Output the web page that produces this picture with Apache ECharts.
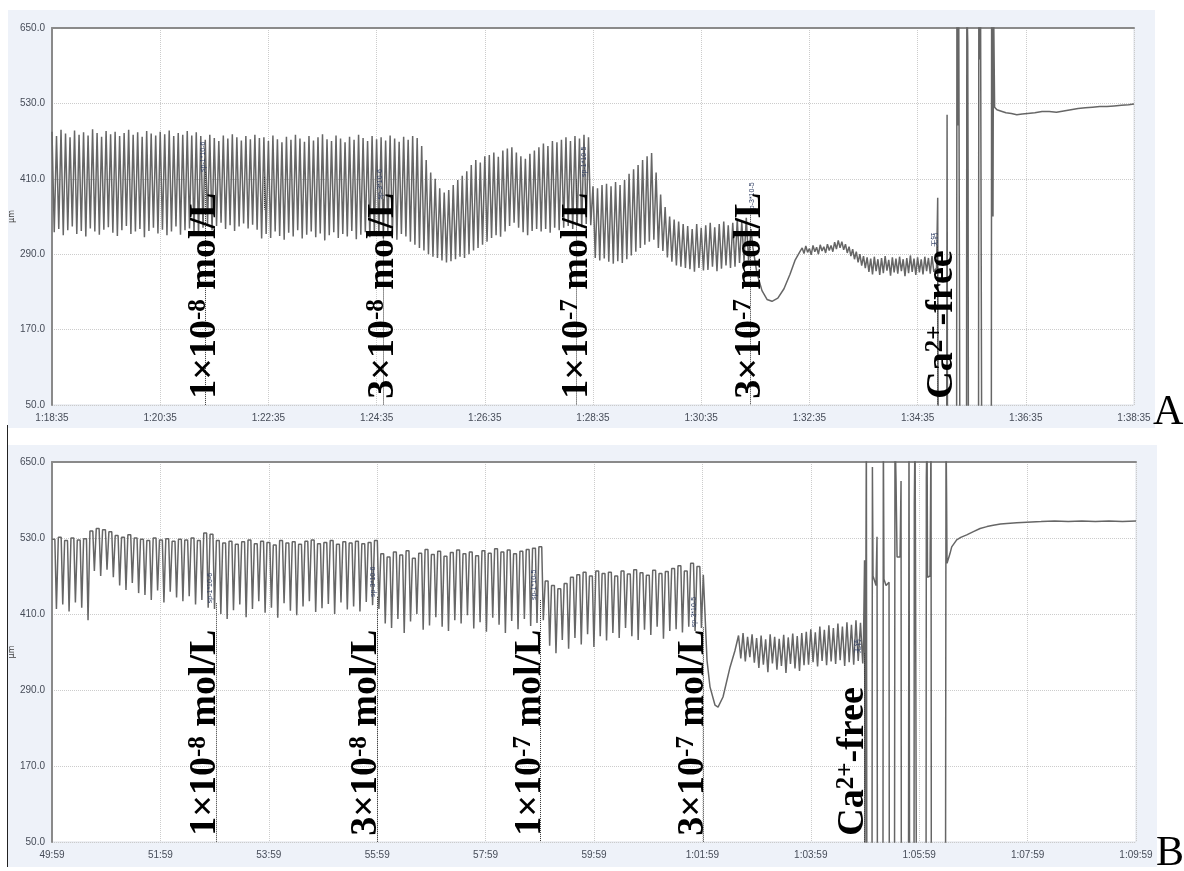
<!DOCTYPE html>
<html><head><meta charset="utf-8">
<script src="https://cdn.jsdelivr.net/npm/echarts/dist/echarts.min.js"></script>
<style>html,body{margin:0;padding:0;background:#fff}#c{width:1184px;height:871px}</style>
</head><body><div id="c"></div>
<script>
// ---------- tick labels ----------
const xTickLabelsA = ['1:18:35','1:20:35','1:22:35','1:24:35','1:26:35','1:28:35','1:30:35','1:32:35','1:34:35','1:36:35','1:38:35'];
const xTickLabelsB = ['49:59','51:59','53:59','55:59','57:59','59:59','1:01:59','1:03:59','1:05:59','1:07:59','1:09:59'];
const yTickLabels = ['50.0','170.0','290.0','410.0','530.0','650.0'];

// ---------- panel A (time in s from 1:18:35, value in µm) ----------
const beatStartA = 0, beatPeriodA = 5;
const peaksA = [
 485,478,488,482,476,487,480,484,479,489,483,477,486,481,485,478,483,488,480,484,477,486,482,479,485,481,487,478,483,480,486,479,484,
 478,472,480,475,470,479,474,481,476,471,478,473,480,475,
 476,470,479,473,468,477,472,480,474,469,478,471,476,481,473,470,479,474,468,477,472,480,475,470,478,473,476,471,479,474,469,477,472,478,475,
 462,440,420,410, 395,388,392, 400,408,415,422, 432,440,436,446, 448,452,445,455, 458,460,452,
 446,442,450,455, 460,466,462,470,468, 472,476,470,478,474,480,476,
 398,395,400, 402,398,405,400,408, 418,425,432,440,446,451, 420,385,365, 350,345,342,338,
 335,330,338,332,336,340,333,338,342,336,340, 345,342,348];
const troughsA = [
 325,330,320,328,334,322,327,318,331,326,321,329,333,324,319,328,335,322,326,330,317,327,332,323,329,320,326,334,321,328,331,325,319,
 332,338,328,335,340,330,336,327,334,339,331,337,329,315,
 322,316,326,319,313,324,318,328,315,321,326,317,323,312,320,325,316,322,318,327,314,321,325,317,323,319,315,326,320,313,322,318,310,305,300,
 296,290,286,284, 280,277,279, 282,286,284,290, 296,300,305,310, 316,320,318,326, 335,340,332,
 325,320,327,330, 326,330,324,332,328, 332,335,330,337,333,338,336,
 284,280,283, 278,275,279,276,282, 288,294,300,305,310,313, 300,295,285, 278,272,270,268,
 266,262,268,264,265,270,263,267,272,268,270, 276,278,280];
const smoothA1 = [[775.2,330],[777.4,300],[781.8,260],[787.4,232],[793,218],[798.5,215],[805,220],[811.8,235],[818.5,258],[824,280],[829.5,294]];
const smallStartA = 832, smallPeriodA = 4;
const smallPeaksA = [300,303,299,304,301,305,302,306,304, 309,312,310, 306,302,298,294,290,287,
 285,283,286,282,284,287,281,285,283,286,282,284,288,283,285,282,286,284,287];
const smallTroughsA = [291,293,289,294,290,295,292,296,294, 298,300,297, 292,287,282,277,272,268,
 262,258,263,257,260,264,256,261,259,263,255,260,262,257,261,258,263,259,262];
const spikesA = [[981,268],[982.3,380],[982.8,30],[992.3,30],[992.7,512],[993.1,30],[1003.3,30],[1003.6,700],[1004.6,495],[1005.6,700],[1006.8,30],
 [1014.3,30],[1014.6,700],[1015.6,626],[1016,420],[1016.3,30],[1027.6,30],[1027.9,700],[1029.2,600],[1029.8,700],[1031,30],
 [1041.8,30],[1042.1,700],[1043,640],[1043.6,350],[1044.2,700],[1045.4,524]];
const smoothA2 = [[1048,520],[1052,518],[1058,515],[1064,514],[1070,512],[1076,513],[1082,514],[1090,515],[1098,517],[1106,517],[1114,516],
 [1122,518],[1130,520],[1138,522],[1146,523],[1154,524],[1162,525],[1170,525],[1178,526],[1186,527],[1194,528],[1200,529]];

// ---------- panel B (time in s from 49:59) ----------
const beatStartB = 0, beatPeriodB = 7;
const peaksB = [528,531,526,530,527,529, 541,545,543,540, 534,531,535,530, 528,526,530,527,529,525,528, 527,530,526,538,536,
 526,522,525,520,524,527,521,525,523,519,526,522,524,520,525,527,521,523,526,520,524,522,525,521,523,526,
 505,500,508,503,510,498,506,512,504,509,501,507,511,505,508,502,510,506,513,508,511,505,509,512,514,
 516, 462,455,450,458, 468,472,476,470,478,474, 476,470,478,473,480,475,471,479,474,477, 482,486,478,490,485];
const troughsB = [418,425,414,428,420,400, 478,470,480,468, 455,448,459,443, 440,432,447,428,445,436,430, 438,425,432,420,418,
 410,402,416,425,405,418,430,412,420,404,427,415,408,422,430,413,419,426,410,428,417,422,414,429,424,418,
 395,388,402,380,398,410,385,392,405,390,383,400,395,408,387,397,382,404,393,380,399,386,402,391,396,
 400, 360,348,369,355, 372,362,378,358,375,368, 380,372,388,375,369,385,377,390,371,383, 386,381,390,383,388];
const smoothB1 = [[721,472],[725.1,337],[728.4,295],[734,266],[737.3,263],[742.8,279],[750.6,326],[756,352]];
const smallStartB = 760, smallPeriodB = 5;
const smallPeaksB = [376,380,374,378, 372,376,370,378,374,371,377,373,379,375,380, 382,386,381,390,385,392,388,395,390,397,393,400,396];
const smallTroughsB = [340,335,342,333, 325,330,318,332,322,328,317,331,324,320,329, 330,334,327,336,329,335,331,337,328,334,330,336,332];
const spikesB = [[898.4,372],[899.5,495],[900,30],[901.1,30],[901.5,700],[902,30],[907.8,30],[908.2,642],[908.9,470],[912.2,455],[913.3,532],[913.7,30],
 [919.9,30],[920.3,700],[921,465],[923.3,455],[926.6,460],[926.9,30],[932.7,30],[933.2,700],[934.3,625],[935.5,500],[938.8,500],[939.9,620],[940.2,30],
 [948.2,30],[948.7,700],[949.3,30],[954.3,30],[954.6,585],[955.4,700],[955.9,500],[956.5,500],[956.8,30],[967.6,30],[967.9,626],[968.7,700],
 [969.2,468],[972,470],[973.1,700],[973.4,30],[989.2,30],[989.7,700],[990.3,600],[990.8,490]];
const recoveryB = [[992.3,490],[994,505],[996,516],[1001.5,527],[1006,531],[1012.6,535],[1020,540],[1027.4,545],[1035,548],[1042,550],[1050,552],
 [1057,553],[1068,554],[1079,555],[1095,556],[1110,557],[1125,556],[1140,557],[1155,556],[1170,557],[1185,556],[1200,557]];

// ---------- event markers ----------
const markerTimesA = [169.7, 367.1, 581.1, 774.1, 981.5, 235.1];
const markerTopsA  = [421, 377, 409, 356, 302, 413];
const markerBottomsA = [50, 50, 50, 50, 50, 361];
const markerTimesB = [181.6, 359.8, 540.2, 720.8, 898.9];
const markerTopsB  = [427, 437, 432, 389, 348];
const tagTexts = ['sp-1*10-6','sp-3*10-6','sp-1*10-5','sp-3*10-5','无钙'];
const tagTimesA = [167.5, 363.8, 590, 776.3, 979.3];
const tagBottomsA = [421, 377, 413, 356, 302];
const tagTimesB = [174.9, 355.4, 533.6, 710.7, 892.3];
const tagBottomsB = [427, 437, 432, 389, 348];
const bigTexts = ['{n|1×10}{s|-8}{n| mol/L}','{n|3×10}{s|-8}{n| mol/L}','{n|1×10}{s|-7}{n| mol/L}','{n|3×10}{s|-7}{n| mol/L}','{n|Ca}{s|2+}{n|-free}'];
const bigTimesA = [169.7, 367.1, 582.2, 774.1, 987.0];
const bigTimesB = [169.4, 347.6, 529.2, 709.6, 886.8];
const bigBottomValue = 60;

// ---------- build traces ----------
function zigzag(t0, period, peaks, troughs) {
  const out = [];
  for (let i = 0; i < peaks.length; i++) {
    out.push([t0 + i * period, peaks[i]]);
    out.push([t0 + i * period + period / 2, troughs[i]]);
  }
  return out;
}
function plateau(t0, period, peaks, troughs) {
  const out = [];
  for (let i = 0; i < peaks.length; i++) {
    const t = t0 + i * period;
    out.push([t, peaks[i]]);
    out.push([t + period * 0.45, peaks[i]]);
    out.push([t + period * 0.7, troughs[i]]);
  }
  return out;
}
const traceA = [].concat(zigzag(beatStartA, beatPeriodA, peaksA, troughsA), smoothA1,
  zigzag(smallStartA, smallPeriodA, smallPeaksA, smallTroughsA), spikesA, smoothA2);
const traceB = [].concat(plateau(beatStartB, beatPeriodB, peaksB, troughsB), smoothB1,
  zigzag(smallStartB, smallPeriodB, smallPeaksB, smallTroughsB), spikesB, recoveryB);

const chart = echarts.init(document.getElementById('c'));
const tickFont = {fontSize: 10, color: '#464c58', fontFamily: 'Liberation Sans'};
function xAxes(gi, labels) {
  return [
    {gridIndex: gi, type: 'value', min: 0, max: 1200, interval: 120, position: 'bottom',
     axisLine: {show: false, onZero: false}, axisTick: {show: false},
     axisLabel: Object.assign({margin: 8, formatter: v => labels[Math.round(v / 120)]}, tickFont),
     splitLine: {show: true, lineStyle: {type: 'dotted', color: '#cccccc'}}},
    {gridIndex: gi, type: 'value', min: 0, max: 1200, position: 'top',
     axisLine: {show: true, onZero: false, lineStyle: {color: '#8a8a8a', width: 2}},
     axisTick: {show: false}, axisLabel: {show: false}, splitLine: {show: false}}
  ];
}
function yAxis(gi) {
  return {gridIndex: gi, type: 'value', min: 50, max: 650, interval: 120,
    axisLine: {show: true, onZero: false, lineStyle: {color: '#8a8a8a', width: 2}}, axisTick: {show: false},
    axisLabel: Object.assign({margin: 7, formatter: v => yTickLabels[Math.round((v - 50) / 120)]}, tickFont),
    splitLine: {show: true, lineStyle: {type: 'dotted', color: '#cccccc'}},
    name: 'μm', nameLocation: 'middle', nameGap: 36, nameRotate: 90, nameMoveOverlap: false,
    nameTextStyle: {fontSize: 8, color: '#444', fontFamily: 'DejaVu Sans'}};
}
function markLines(times, tops, bottoms) {
  return {silent: true, symbol: ['none', 'none'], animation: false, label: {show: false},
    lineStyle: {type: 'dotted', color: '#333', width: 1},
    emphasis: {disabled: true},
    data: times.map((t, i) => [{coord: [t, tops[i]]}, {coord: [t, bottoms ? bottoms[i] : 50]}])};
}
const lineStyle = {color: '#666666', width: 1.5};
chart.setOption({
  animation: false,
  grid: [
    {left: 52, top: 28, width: 1082, height: 377, show: true, backgroundColor: '#ffffff', borderColor: '#dde1e8', borderWidth: 1,
     containLabel: false, outerBoundsMode: 'none'},
    {left: 52, top: 462, width: 1084, height: 380, show: true, backgroundColor: '#ffffff', borderColor: '#dde1e8', borderWidth: 1,
     containLabel: false, outerBoundsMode: 'none'}
  ],
  xAxis: [].concat(xAxes(0, xTickLabelsA), xAxes(1, xTickLabelsB)),
  yAxis: [yAxis(0), yAxis(1)],
  series: [
    {type: 'line', xAxisIndex: 0, yAxisIndex: 0, data: traceA, showSymbol: false, symbol: 'none', silent: true,
     lineStyle: lineStyle, clip: true, markLine: markLines(markerTimesA, markerTopsA, markerBottomsA)},
    {type: 'line', xAxisIndex: 2, yAxisIndex: 1, data: traceB, showSymbol: false, symbol: 'none', silent: true,
     lineStyle: lineStyle, clip: true, markLine: markLines(markerTimesB, markerTopsB)}
  ]
});

// ---------- annotations placed through the axes ----------
const rich = {
  n: {fontSize: 38, fontWeight: 'bold', fontFamily: 'Liberation Serif', color: '#000'},
  s: {fontSize: 25, fontWeight: 'bold', fontFamily: 'Liberation Serif', color: '#000', verticalAlign: 'top'}
};
const g = [
  {type: 'rect', z: -10, silent: true, shape: {x: 8, y: 10, width: 1147, height: 418}, style: {fill: '#eef2f9'}},
  {type: 'rect', z: -10, silent: true, shape: {x: 8, y: 445, width: 1149, height: 422}, style: {fill: '#eef2f9'}},
  {type: 'line', z: 50, silent: true, shape: {x1: 7.5, y1: 425, x2: 7.5, y2: 867}, style: {stroke: '#222', lineWidth: 1}},
  {type: 'text', z: 50, x: 1153, y: 413, style: {text: 'A', font: '42px "Liberation Serif"', fill: '#000', verticalAlign: 'middle'}},
  {type: 'text', z: 50, x: 1156, y: 854, style: {text: 'B', font: '42px "Liberation Serif"', fill: '#000', verticalAlign: 'middle'}}
];
[[0, bigTimesA, tagTimesA, tagBottomsA], [1, bigTimesB, tagTimesB, tagBottomsB]].forEach(([gi, bt, tt, tb]) => {
  bt.forEach((t, i) => {
    const p = chart.convertToPixel({gridIndex: gi}, [t, bigBottomValue]);
    g.push({type: 'text', z: 60, silent: true, x: p[0], y: p[1], rotation: Math.PI / 2,
      style: {text: bigTexts[i], rich: rich, align: 'left', verticalAlign: 'middle'}});
  });
  tt.forEach((t, i) => {
    const p = chart.convertToPixel({gridIndex: gi}, [t, tb[i]]);
    g.push({type: 'text', z: 55, silent: true, x: p[0], y: p[1], rotation: Math.PI / 2,
      style: {text: tagTexts[i], fontSize: 7, fontFamily: 'Liberation Sans, "Noto Sans CJK SC"', fill: '#2e3d63', align: 'left', verticalAlign: 'middle'}});
  });
});
chart.setOption({graphic: {elements: g}});
</script></body></html>
